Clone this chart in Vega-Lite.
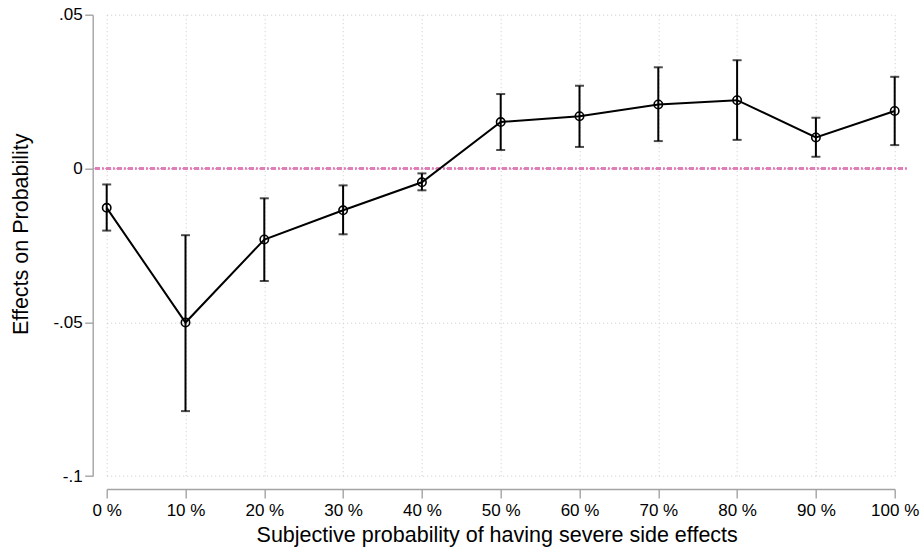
{
  "$schema": "https://vega.github.io/schema/vega-lite/v6.json",
  "autosize": {"type": "none"},
  "width": 788,
  "height": 461.3,
  "padding": {"left": 106.7, "top": 14.7, "right": 26.3, "bottom": 79},
  "background": "white",
  "config": {
    "view": {"stroke": null},
    "font": "Liberation Sans",
    "axis": {
      "labelFont": "Liberation Sans",
      "titleFont": "Liberation Sans",
      "labelColor": "black",
      "titleColor": "black",
      "labelFontSize": 17,
      "titleFontSize": 21.5,
      "titleFontWeight": "normal",
      "domainColor": "#a3a3a3",
      "domainWidth": 1.4,
      "tickColor": "#a3a3a3",
      "tickWidth": 1.4,
      "gridColor": "#c8c8c8",
      "gridDash": [1, 3],
      "gridWidth": 1
    }
  },
  "data": {
    "values": [
      {"p": 0, "est": -0.0128, "lo": -0.0202, "hi": -0.0052},
      {"p": 10, "est": -0.0501, "lo": -0.0789, "hi": -0.0217},
      {"p": 20, "est": -0.0231, "lo": -0.0366, "hi": -0.0097},
      {"p": 30, "est": -0.0136, "lo": -0.0214, "hi": -0.0055},
      {"p": 40, "est": -0.0045, "lo": -0.0071, "hi": -0.0016},
      {"p": 50, "est": 0.0151, "lo": 0.0060, "hi": 0.0242},
      {"p": 60, "est": 0.0170, "lo": 0.0070, "hi": 0.0269},
      {"p": 70, "est": 0.0208, "lo": 0.0089, "hi": 0.0329},
      {"p": 80, "est": 0.0222, "lo": 0.0093, "hi": 0.0352},
      {"p": 90, "est": 0.0101, "lo": 0.0038, "hi": 0.0165},
      {"p": 100, "est": 0.0187, "lo": 0.0076, "hi": 0.0298}
    ]
  },
  "encoding": {
    "x": {
      "field": "p",
      "type": "quantitative",
      "scale": {"domain": [0, 100], "nice": false, "zero": false},
      "axis": {
        "title": "Subjective probability of having severe side effects",
        "values": [0, 10, 20, 30, 40, 50, 60, 70, 80, 90, 100],
        "labelExpr": "datum.value + ' %'",
        "offset": 13,
        "tickSize": 9,
        "labelPadding": 4,
        "titlePadding": 6,
        "titleX": 390,
        "grid": true,
        "labelFlush": false,
        "labelOverlap": false
      }
    },
    "y": {
      "field": "est",
      "type": "quantitative",
      "scale": {"domain": [-0.1, 0.05], "nice": false, "zero": false},
      "axis": {
        "title": "Effects on Probability",
        "values": [-0.1, -0.05, 0, 0.05],
        "labelExpr": "datum.value == 0 ? '0' : (datum.value < 0 ? '-' : '') + replace(toString(abs(datum.value)), '0.', '.')",
        "offset": 14,
        "tickSize": 8,
        "labelPadding": 2.5,
        "titlePadding": 20,
        "titleY": 219,
        "grid": true,
        "labelFlush": false,
        "labelOverlap": false
      }
    }
  },
  "layer": [
    {
      "mark": {"type": "rule", "color": "#e07cb6", "strokeWidth": 1.4, "strokeDash": [5, 2.5, 1, 2.5], "clip": false},
      "encoding": {
        "y": {"datum": 0},
        "x": {"datum": -1.5},
        "x2": {"datum": 101.7}
      }
    },
    {
      "mark": {"type": "errorbar", "color": "black", "thickness": 2, "ticks": {"size": 9, "thickness": 2, "color": "black"}},
      "encoding": {
        "y": {"field": "lo", "type": "quantitative"},
        "y2": {"field": "hi"}
      }
    },
    {
      "mark": {"type": "line", "color": "black", "strokeWidth": 2}
    },
    {
      "mark": {"type": "point", "shape": "circle", "filled": false, "color": "black", "size": 70, "strokeWidth": 1.6, "opacity": 1}
    }
  ]
}
